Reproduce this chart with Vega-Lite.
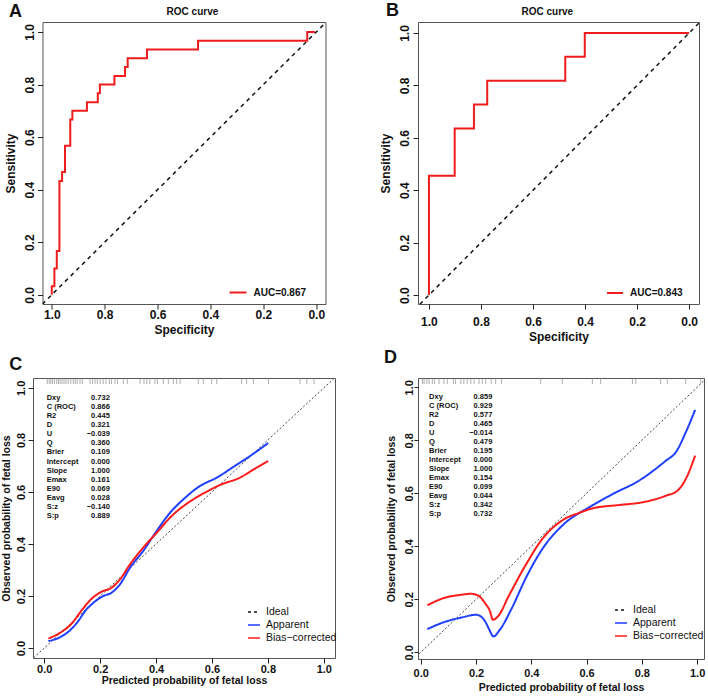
{
  "$schema": "https://vega.github.io/schema/vega-lite/v6.json",
  "background": "white",
  "autosize": {"type": "none"},
  "padding": {"left": 33, "top": 22, "right": 675, "bottom": 675},
  "config": {
    "font": "Liberation Sans",
    "view": {"stroke": "#555", "strokeWidth": 1},
    "axis": {"domain": false, "grid": false, "tickColor": "#222", "tickSize": 5, "tickWidth": 1, "labelColor": "#111", "titleColor": "#111", "labelFont": "Liberation Sans", "titleFont": "Liberation Sans", "labelFontWeight": "bold", "titleFontWeight": "bold", "labelFlush": false, "labelOverlap": false, "labelBound": false},
    "legend": {"labelFont": "Liberation Sans", "labelColor": "#111", "padding": 0, "symbolType": "stroke"},
    "text": {"font": "Liberation Sans", "color": "#111"}
  },
  "datasets": {
    "rocA": [
      {"i": 0, "spec": 1.0, "sens": 0.0}, {"i": 1, "spec": 1.0, "sens": 0.033}, {"i": 2, "spec": 0.99, "sens": 0.033}, {"i": 3, "spec": 0.99, "sens": 0.1},
      {"i": 4, "spec": 0.981, "sens": 0.1}, {"i": 5, "spec": 0.981, "sens": 0.167}, {"i": 6, "spec": 0.971, "sens": 0.167}, {"i": 7, "spec": 0.971, "sens": 0.433},
      {"i": 8, "spec": 0.961, "sens": 0.433}, {"i": 9, "spec": 0.961, "sens": 0.467}, {"i": 10, "spec": 0.95, "sens": 0.467}, {"i": 11, "spec": 0.95, "sens": 0.567},
      {"i": 12, "spec": 0.93, "sens": 0.567}, {"i": 13, "spec": 0.93, "sens": 0.667}, {"i": 14, "spec": 0.922, "sens": 0.667}, {"i": 15, "spec": 0.922, "sens": 0.7},
      {"i": 16, "spec": 0.867, "sens": 0.7}, {"i": 17, "spec": 0.867, "sens": 0.733}, {"i": 18, "spec": 0.826, "sens": 0.733}, {"i": 19, "spec": 0.826, "sens": 0.767},
      {"i": 20, "spec": 0.818, "sens": 0.767}, {"i": 21, "spec": 0.818, "sens": 0.8}, {"i": 22, "spec": 0.763, "sens": 0.8}, {"i": 23, "spec": 0.763, "sens": 0.833},
      {"i": 24, "spec": 0.723, "sens": 0.833}, {"i": 25, "spec": 0.723, "sens": 0.867}, {"i": 26, "spec": 0.713, "sens": 0.867}, {"i": 27, "spec": 0.713, "sens": 0.9},
      {"i": 28, "spec": 0.64, "sens": 0.9}, {"i": 29, "spec": 0.64, "sens": 0.933}, {"i": 30, "spec": 0.447, "sens": 0.933}, {"i": 31, "spec": 0.447, "sens": 0.967},
      {"i": 32, "spec": 0.034, "sens": 0.967}, {"i": 33, "spec": 0.034, "sens": 1.0}, {"i": 34, "spec": 0.005, "sens": 1.0}
    ],
    "rocB": [
      {"i": 0, "spec": 1.0, "sens": 0.0}, {"i": 1, "spec": 1.0, "sens": 0.455}, {"i": 2, "spec": 0.901, "sens": 0.455}, {"i": 3, "spec": 0.901, "sens": 0.636},
      {"i": 4, "spec": 0.827, "sens": 0.636}, {"i": 5, "spec": 0.827, "sens": 0.727}, {"i": 6, "spec": 0.776, "sens": 0.727}, {"i": 7, "spec": 0.776, "sens": 0.818},
      {"i": 8, "spec": 0.476, "sens": 0.818}, {"i": 9, "spec": 0.476, "sens": 0.909}, {"i": 10, "spec": 0.401, "sens": 0.909}, {"i": 11, "spec": 0.401, "sens": 1.0},
      {"i": 12, "spec": 0.0, "sens": 1.0}
    ],
    "rocDiag": [{"spec": 1.1, "sens": -0.1}, {"spec": -0.1, "sens": 1.1}],
    "calIdeal": [{"p": -0.1, "obs": -0.1}, {"p": 1.1, "obs": 1.1}],
    "calC": [
      {"series": "Apparent", "p": 0.015, "obs": 0.027}, {"series": "Apparent", "p": 0.057, "obs": 0.042}, {"series": "Apparent", "p": 0.092, "obs": 0.068},
      {"series": "Apparent", "p": 0.122, "obs": 0.104}, {"series": "Apparent", "p": 0.146, "obs": 0.142}, {"series": "Apparent", "p": 0.176, "obs": 0.174},
      {"series": "Apparent", "p": 0.211, "obs": 0.2}, {"series": "Apparent", "p": 0.241, "obs": 0.213}, {"series": "Apparent", "p": 0.271, "obs": 0.245},
      {"series": "Apparent", "p": 0.307, "obs": 0.309}, {"series": "Apparent", "p": 0.354, "obs": 0.373}, {"series": "Apparent", "p": 0.402, "obs": 0.45},
      {"series": "Apparent", "p": 0.45, "obs": 0.52}, {"series": "Apparent", "p": 0.498, "obs": 0.572}, {"series": "Apparent", "p": 0.557, "obs": 0.623},
      {"series": "Apparent", "p": 0.617, "obs": 0.655}, {"series": "Apparent", "p": 0.676, "obs": 0.696}, {"series": "Apparent", "p": 0.736, "obs": 0.738},
      {"series": "Apparent", "p": 0.801, "obs": 0.788},
      {"series": "Bias−corrected", "p": 0.015, "obs": 0.037}, {"series": "Bias−corrected", "p": 0.057, "obs": 0.059}, {"series": "Bias−corrected", "p": 0.098, "obs": 0.094},
      {"series": "Bias−corrected", "p": 0.134, "obs": 0.145}, {"series": "Bias−corrected", "p": 0.17, "obs": 0.19}, {"series": "Bias−corrected", "p": 0.206, "obs": 0.217},
      {"series": "Bias−corrected", "p": 0.241, "obs": 0.232}, {"series": "Bias−corrected", "p": 0.271, "obs": 0.264}, {"series": "Bias−corrected", "p": 0.307, "obs": 0.322},
      {"series": "Bias−corrected", "p": 0.354, "obs": 0.386}, {"series": "Bias−corrected", "p": 0.402, "obs": 0.443}, {"series": "Bias−corrected", "p": 0.462, "obs": 0.514},
      {"series": "Bias−corrected", "p": 0.51, "obs": 0.555}, {"series": "Bias−corrected", "p": 0.569, "obs": 0.594}, {"series": "Bias−corrected", "p": 0.629, "obs": 0.627},
      {"series": "Bias−corrected", "p": 0.7, "obs": 0.655}, {"series": "Bias−corrected", "p": 0.76, "obs": 0.694}, {"series": "Bias−corrected", "p": 0.801, "obs": 0.719}
    ],
    "calD": [
      {"series": "Apparent", "p": 0.024, "obs": 0.088}, {"series": "Apparent", "p": 0.09, "obs": 0.116}, {"series": "Apparent", "p": 0.15, "obs": 0.132},
      {"series": "Apparent", "p": 0.199, "obs": 0.142}, {"series": "Apparent", "p": 0.217, "obs": 0.136}, {"series": "Apparent", "p": 0.235, "obs": 0.113},
      {"series": "Apparent", "p": 0.247, "obs": 0.088}, {"series": "Apparent", "p": 0.263, "obs": 0.06}, {"series": "Apparent", "p": 0.284, "obs": 0.082},
      {"series": "Apparent", "p": 0.331, "obs": 0.17}, {"series": "Apparent", "p": 0.38, "obs": 0.28}, {"series": "Apparent", "p": 0.44, "obs": 0.39},
      {"series": "Apparent", "p": 0.519, "obs": 0.485}, {"series": "Apparent", "p": 0.609, "obs": 0.547}, {"series": "Apparent", "p": 0.694, "obs": 0.597},
      {"series": "Apparent", "p": 0.79, "obs": 0.648}, {"series": "Apparent", "p": 0.887, "obs": 0.723}, {"series": "Apparent", "p": 0.923, "obs": 0.755},
      {"series": "Apparent", "p": 0.959, "obs": 0.83}, {"series": "Apparent", "p": 0.993, "obs": 0.915},
      {"series": "Bias−corrected", "p": 0.024, "obs": 0.178}, {"series": "Bias−corrected", "p": 0.09, "obs": 0.207}, {"series": "Bias−corrected", "p": 0.138, "obs": 0.216},
      {"series": "Bias−corrected", "p": 0.181, "obs": 0.221}, {"series": "Bias−corrected", "p": 0.205, "obs": 0.216}, {"series": "Bias−corrected", "p": 0.235, "obs": 0.182},
      {"series": "Bias−corrected", "p": 0.25, "obs": 0.157}, {"series": "Bias−corrected", "p": 0.261, "obs": 0.123}, {"series": "Bias−corrected", "p": 0.281, "obs": 0.138},
      {"series": "Bias−corrected", "p": 0.319, "obs": 0.214}, {"series": "Bias−corrected", "p": 0.38, "obs": 0.33}, {"series": "Bias−corrected", "p": 0.44, "obs": 0.428},
      {"series": "Bias−corrected", "p": 0.52, "obs": 0.503}, {"series": "Bias−corrected", "p": 0.573, "obs": 0.526}, {"series": "Bias−corrected", "p": 0.621, "obs": 0.543},
      {"series": "Bias−corrected", "p": 0.718, "obs": 0.556}, {"series": "Bias−corrected", "p": 0.802, "obs": 0.566}, {"series": "Bias−corrected", "p": 0.887, "obs": 0.591},
      {"series": "Bias−corrected", "p": 0.929, "obs": 0.61}, {"series": "Bias−corrected", "p": 0.959, "obs": 0.654}, {"series": "Bias−corrected", "p": 0.993, "obs": 0.742}
    ],
    "rugC": [
      {"p": 0.011}, {"p": 0.018}, {"p": 0.024}, {"p": 0.03}, {"p": 0.037}, {"p": 0.045}, {"p": 0.051}, {"p": 0.057}, {"p": 0.064}, {"p": 0.071},
      {"p": 0.078}, {"p": 0.086}, {"p": 0.095}, {"p": 0.104}, {"p": 0.111}, {"p": 0.118}, {"p": 0.128}, {"p": 0.136}, {"p": 0.164}, {"p": 0.173},
      {"p": 0.182}, {"p": 0.19}, {"p": 0.2}, {"p": 0.211}, {"p": 0.221}, {"p": 0.233}, {"p": 0.241}, {"p": 0.253}, {"p": 0.262}, {"p": 0.283},
      {"p": 0.297}, {"p": 0.343}, {"p": 0.357}, {"p": 0.367}, {"p": 0.378}, {"p": 0.396}, {"p": 0.405}, {"p": 0.426}, {"p": 0.444}, {"p": 0.462},
      {"p": 0.474}, {"p": 0.486}, {"p": 0.551}, {"p": 0.569}, {"p": 0.599}, {"p": 0.617}, {"p": 0.706}, {"p": 0.724}, {"p": 0.748}, {"p": 0.802},
      {"p": 0.915}, {"p": 0.939}, {"p": 0.965}
    ],
    "rugD": [
      {"p": 0.006}, {"p": 0.012}, {"p": 0.022}, {"p": 0.03}, {"p": 0.042}, {"p": 0.05}, {"p": 0.066}, {"p": 0.084}, {"p": 0.096}, {"p": 0.118},
      {"p": 0.126}, {"p": 0.145}, {"p": 0.156}, {"p": 0.168}, {"p": 0.181}, {"p": 0.193}, {"p": 0.211}, {"p": 0.223}, {"p": 0.235}, {"p": 0.255},
      {"p": 0.271}, {"p": 0.292}, {"p": 0.434}, {"p": 0.512}, {"p": 0.621}, {"p": 0.651}, {"p": 0.766}, {"p": 0.778}, {"p": 0.868}, {"p": 0.892},
      {"p": 0.959}, {"p": 1.013}
    ],
    "statsC": [
      {"stat": "Dxy", "value": "0.732"}, {"stat": "C (ROC)", "value": "0.866"}, {"stat": "R2", "value": "0.445"}, {"stat": "D", "value": "0.321"},
      {"stat": "U", "value": "−0.039"}, {"stat": "Q", "value": "0.360"}, {"stat": "Brier", "value": "0.109"}, {"stat": "Intercept", "value": "0.000"},
      {"stat": "Slope", "value": "1.000"}, {"stat": "Emax", "value": "0.161"}, {"stat": "E90", "value": "0.069"}, {"stat": "Eavg", "value": "0.028"},
      {"stat": "S:z", "value": "−0.140"}, {"stat": "S:p", "value": "0.889"}
    ],
    "statsD": [
      {"stat": "Dxy", "value": "0.859"}, {"stat": "C (ROC)", "value": "0.929"}, {"stat": "R2", "value": "0.577"}, {"stat": "D", "value": "0.465"},
      {"stat": "U", "value": "−0.014"}, {"stat": "Q", "value": "0.479"}, {"stat": "Brier", "value": "0.195"}, {"stat": "Intercept", "value": "0.000"},
      {"stat": "Slope", "value": "1.000"}, {"stat": "Emax", "value": "0.154"}, {"stat": "E90", "value": "0.099"}, {"stat": "Eavg", "value": "0.044"},
      {"stat": "S:z", "value": "0.342"}, {"stat": "S:p", "value": "0.732"}
    ]
  },
  "columns": 2,
  "spacing": {"row": 74, "column": 83},
  "bounds": "flush",
  "center": true,
  "resolve": {"scale": {"color": "independent", "strokeDash": "independent"}, "legend": {"color": "independent", "strokeDash": "independent"}},
  "concat": [
    {
      "width": 283, "height": 282,
      "layer": [
        {
          "data": {"name": "rocDiag"},
          "mark": {"type": "line", "clip": true, "color": "#111", "strokeDash": [4, 4], "strokeWidth": 1.5},
          "encoding": {
            "x": {"field": "spec", "type": "quantitative", "scale": {"domain": [-0.035, 1.035], "reverse": true, "nice": false, "zero": false},
                  "axis": {"title": "Specificity", "values": [0, 0.2, 0.4, 0.6, 0.8, 1], "format": ".1f", "labelFontSize": 12, "titleFontSize": 12, "labelPadding": 0.5, "titlePadding": 4}},
            "y": {"field": "sens", "type": "quantitative", "scale": {"domain": [-0.035, 1.038], "nice": false, "zero": false},
                  "axis": {"title": "Sensitivity", "values": [0, 0.2, 0.4, 0.6, 0.8, 1], "format": ".1f", "labelFontSize": 12, "titleFontSize": 12, "labelAngle": -90, "labelAlign": "center", "labelBaseline": "alphabetic", "labelPadding": 4, "titlePadding": 6}}
          }
        },
        {
          "data": {"name": "rocA"},
          "mark": {"type": "line", "strokeWidth": 2},
          "encoding": {
            "x": {"field": "spec", "type": "quantitative", "scale": {"domain": [-0.035, 1.035], "reverse": true, "nice": false, "zero": false}},
            "y": {"field": "sens", "type": "quantitative", "scale": {"domain": [-0.035, 1.038], "nice": false, "zero": false}},
            "order": {"field": "i"},
            "color": {"datum": "AUC=0.867", "type": "nominal", "scale": {"range": ["#ee1c1c"]},
                      "legend": {"orient": "none", "legendX": 186, "legendY": 261, "title": null, "symbolSize": 289, "symbolStrokeWidth": 2, "labelFontSize": 10, "labelFontWeight": "bold", "labelOffset": 6}}
          }
        },
        {
          "data": {"values": [{"t": "A"}]},
          "mark": {"type": "text", "align": "left", "baseline": "alphabetic", "fontSize": 18, "fontWeight": "bold"},
          "encoding": {"x": {"datum": 1.162}, "y": {"datum": 1.057}, "text": {"field": "t"}}
        },
        {
          "data": {"values": [{"t": "ROC curve"}]},
          "mark": {"type": "text", "align": "center", "baseline": "alphabetic", "fontSize": 10, "fontWeight": "bold"},
          "encoding": {"x": {"datum": 0.468}, "y": {"datum": 1.065}, "text": {"field": "t"}}
        }
      ]
    },
    {
      "width": 281, "height": 282,
      "layer": [
        {
          "data": {"name": "rocDiag"},
          "mark": {"type": "line", "clip": true, "color": "#111", "strokeDash": [4, 4], "strokeWidth": 1.5},
          "encoding": {
            "x": {"field": "spec", "type": "quantitative", "scale": {"domain": [-0.038, 1.042], "reverse": true, "nice": false, "zero": false},
                  "axis": {"title": "Specificity", "values": [0, 0.2, 0.4, 0.6, 0.8, 1], "format": ".1f", "labelFontSize": 12, "titleFontSize": 12, "labelPadding": 7, "titlePadding": 4}},
            "y": {"field": "sens", "type": "quantitative", "scale": {"domain": [-0.034, 1.042], "nice": false, "zero": false},
                  "axis": {"title": "Sensitivity", "values": [0, 0.2, 0.4, 0.6, 0.8, 1], "format": ".1f", "labelFontSize": 12, "titleFontSize": 12, "labelAngle": -90, "labelAlign": "center", "labelBaseline": "alphabetic", "labelPadding": 5, "titlePadding": 6}}
          }
        },
        {
          "data": {"name": "rocB"},
          "mark": {"type": "line", "strokeWidth": 2},
          "encoding": {
            "x": {"field": "spec", "type": "quantitative", "scale": {"domain": [-0.038, 1.042], "reverse": true, "nice": false, "zero": false}},
            "y": {"field": "sens", "type": "quantitative", "scale": {"domain": [-0.034, 1.042], "nice": false, "zero": false}},
            "order": {"field": "i"},
            "color": {"datum": "AUC=0.843", "type": "nominal", "scale": {"range": ["#ee1c1c"]},
                      "legend": {"orient": "none", "legendX": 188, "legendY": 262, "title": null, "symbolSize": 256, "symbolStrokeWidth": 2, "labelFontSize": 10, "labelFontWeight": "bold", "labelOffset": 6}}
          }
        },
        {
          "data": {"values": [{"t": "B"}]},
          "mark": {"type": "text", "align": "left", "baseline": "alphabetic", "fontSize": 18, "fontWeight": "bold"},
          "encoding": {"x": {"datum": 1.165}, "y": {"datum": 1.064}, "text": {"field": "t"}}
        },
        {
          "data": {"values": [{"t": "ROC curve"}]},
          "mark": {"type": "text", "align": "center", "baseline": "alphabetic", "fontSize": 10, "fontWeight": "bold"},
          "encoding": {"x": {"datum": 0.545}, "y": {"datum": 1.07}, "text": {"field": "t"}}
        }
      ]
    },
    {
      "width": 302, "height": 280,
      "layer": [
        {
          "layer": [
            {
              "data": {"name": "calIdeal"},
              "mark": {"type": "line", "clip": true, "color": "#444", "strokeDash": [2, 2], "strokeWidth": 1},
              "encoding": {
                "x": {"field": "p", "type": "quantitative", "scale": {"domain": [-0.04, 1.04], "nice": false, "zero": false},
                      "axis": {"title": "Predicted probability of fetal loss", "values": [0, 0.2, 0.4, 0.6, 0.8, 1], "format": ".1f", "labelFontSize": 11, "titleFontSize": 10.5, "labelPadding": 0, "titlePadding": 1}},
                "y": {"field": "obs", "type": "quantitative", "scale": {"domain": [-0.038, 1.038], "nice": false, "zero": false},
                      "axis": {"title": "Observed probability of fetal loss", "values": [0, 0.2, 0.4, 0.6, 0.8, 1], "format": ".1f", "labelFontSize": 11, "titleFontSize": 10.5, "labelAngle": -90, "labelAlign": "center", "labelBaseline": "alphabetic", "labelPadding": 4, "titlePadding": 4}}
              }
            },
            {
              "data": {"name": "calC"},
              "mark": {"type": "line", "clip": true, "strokeWidth": 2, "interpolate": "monotone"},
              "encoding": {
                "x": {"field": "p", "type": "quantitative", "scale": {"domain": [-0.04, 1.04], "nice": false, "zero": false}},
                "y": {"field": "obs", "type": "quantitative", "scale": {"domain": [-0.038, 1.038], "nice": false, "zero": false}},
                "color": {"field": "series", "type": "nominal", "scale": {"domain": ["Ideal", "Apparent", "Bias−corrected"], "range": ["#111111", "#1f3fff", "#ff1a1a"]},
                          "legend": {"orient": "none", "legendX": 214, "legendY": 227, "title": null, "symbolSize": 144, "symbolStrokeWidth": 1.3, "labelFontSize": 10.5, "labelOffset": 5, "rowPadding": -1}},
                "strokeDash": {"field": "series", "type": "nominal", "scale": {"domain": ["Ideal", "Apparent", "Bias−corrected"], "range": [[3, 3], [1, 0], [1, 0]]},
                          "legend": {"orient": "none", "legendX": 214, "legendY": 227, "title": null, "symbolSize": 144, "symbolStrokeWidth": 1.3, "labelFontSize": 10.5, "labelOffset": 5, "rowPadding": -1}}
              }
            },
            {
              "data": {"name": "rugC"},
              "mark": {"type": "rule", "color": "#999", "strokeWidth": 0.8},
              "encoding": {
                "x": {"field": "p", "type": "quantitative", "scale": {"domain": [-0.04, 1.04], "nice": false, "zero": false}},
                "y": {"datum": 1.036}, "y2": {"datum": 1.015}
              }
            },
            {
              "data": {"values": [{"t": "C"}]},
              "mark": {"type": "text", "align": "left", "baseline": "alphabetic", "fontSize": 18, "fontWeight": "bold"},
              "encoding": {"x": {"datum": -0.125}, "y": {"datum": 1.069}, "text": {"field": "t"}}
            }
          ]
        },
        {
          "data": {"name": "statsC"},
          "encoding": {"y": {"field": "stat", "type": "nominal", "scale": {"type": "point", "domain": ["Dxy", "C (ROC)", "R2", "D", "U", "Q", "Brier", "Intercept", "Slope", "Emax", "E90", "Eavg", "S:z", "S:p"], "range": [20, 138], "padding": 0}, "axis": null}},
          "layer": [
            {"mark": {"type": "text", "align": "left", "baseline": "middle", "fontSize": 7.5, "fontWeight": "bold"}, "encoding": {"x": {"datum": 0.009}, "text": {"field": "stat"}}},
            {"mark": {"type": "text", "align": "right", "baseline": "middle", "fontSize": 7.5, "fontWeight": "bold"}, "encoding": {"x": {"datum": 0.235}, "text": {"field": "value"}}}
          ]
        }
      ],
      "resolve": {"scale": {"y": "independent"}}
    },
    {
      "width": 286, "height": 281,
      "layer": [
        {
          "layer": [
            {
              "data": {"name": "calIdeal"},
              "mark": {"type": "line", "clip": true, "color": "#444", "strokeDash": [2, 2], "strokeWidth": 1},
              "encoding": {
                "x": {"field": "p", "type": "quantitative", "scale": {"domain": [-0.01, 1.025], "nice": false, "zero": false},
                      "axis": {"title": "Predicted probability of fetal loss", "values": [0, 0.2, 0.4, 0.6, 0.8, 1], "format": ".1f", "labelFontSize": 11, "titleFontSize": 10.5, "labelPadding": 3, "titlePadding": 4}},
                "y": {"field": "obs", "type": "quantitative", "scale": {"domain": [-0.025, 1.035], "nice": false, "zero": false},
                      "axis": {"title": "Observed probability of fetal loss", "values": [0, 0.2, 0.4, 0.6, 0.8, 1], "format": ".1f", "labelFontSize": 11, "titleFontSize": 10.5, "tickSize": 4, "labelAngle": -90, "labelAlign": "center", "labelBaseline": "alphabetic", "labelPadding": 2, "titlePadding": 7}}
              }
            },
            {
              "data": {"name": "calD"},
              "mark": {"type": "line", "clip": true, "strokeWidth": 2, "interpolate": "monotone"},
              "encoding": {
                "x": {"field": "p", "type": "quantitative", "scale": {"domain": [-0.01, 1.025], "nice": false, "zero": false}},
                "y": {"field": "obs", "type": "quantitative", "scale": {"domain": [-0.025, 1.035], "nice": false, "zero": false}},
                "color": {"field": "series", "type": "nominal", "scale": {"domain": ["Ideal", "Apparent", "Bias−corrected"], "range": ["#111111", "#1f3fff", "#ff1a1a"]},
                          "legend": {"orient": "none", "legendX": 196, "legendY": 225, "title": null, "symbolSize": 144, "symbolStrokeWidth": 1.3, "labelFontSize": 10.5, "labelOffset": 5, "rowPadding": -1}},
                "strokeDash": {"field": "series", "type": "nominal", "scale": {"domain": ["Ideal", "Apparent", "Bias−corrected"], "range": [[3, 3], [1, 0], [1, 0]]},
                          "legend": {"orient": "none", "legendX": 196, "legendY": 225, "title": null, "symbolSize": 144, "symbolStrokeWidth": 1.3, "labelFontSize": 10.5, "labelOffset": 5, "rowPadding": -1}}
              }
            },
            {
              "data": {"name": "rugD"},
              "mark": {"type": "rule", "color": "#999", "strokeWidth": 0.8},
              "encoding": {
                "x": {"field": "p", "type": "quantitative", "scale": {"domain": [-0.01, 1.025], "nice": false, "zero": false}},
                "y": {"datum": 1.033}, "y2": {"datum": 1.012}
              }
            },
            {
              "data": {"values": [{"t": "D"}]},
              "mark": {"type": "text", "align": "left", "baseline": "alphabetic", "fontSize": 18, "fontWeight": "bold"},
              "encoding": {"x": {"datum": -0.133}, "y": {"datum": 1.091}, "text": {"field": "t"}}
            }
          ]
        },
        {
          "data": {"name": "statsD"},
          "encoding": {"y": {"field": "stat", "type": "nominal", "scale": {"type": "point", "domain": ["Dxy", "C (ROC)", "R2", "D", "U", "Q", "Brier", "Intercept", "Slope", "Emax", "E90", "Eavg", "S:z", "S:p"], "range": [19, 136], "padding": 0}, "axis": null}},
          "layer": [
            {"mark": {"type": "text", "align": "left", "baseline": "middle", "fontSize": 7.5, "fontWeight": "bold"}, "encoding": {"x": {"datum": 0.03}, "text": {"field": "stat"}}},
            {"mark": {"type": "text", "align": "right", "baseline": "middle", "fontSize": 7.5, "fontWeight": "bold"}, "encoding": {"x": {"datum": 0.259}, "text": {"field": "value"}}}
          ]
        }
      ],
      "resolve": {"scale": {"y": "independent"}}
    }
  ]
}
